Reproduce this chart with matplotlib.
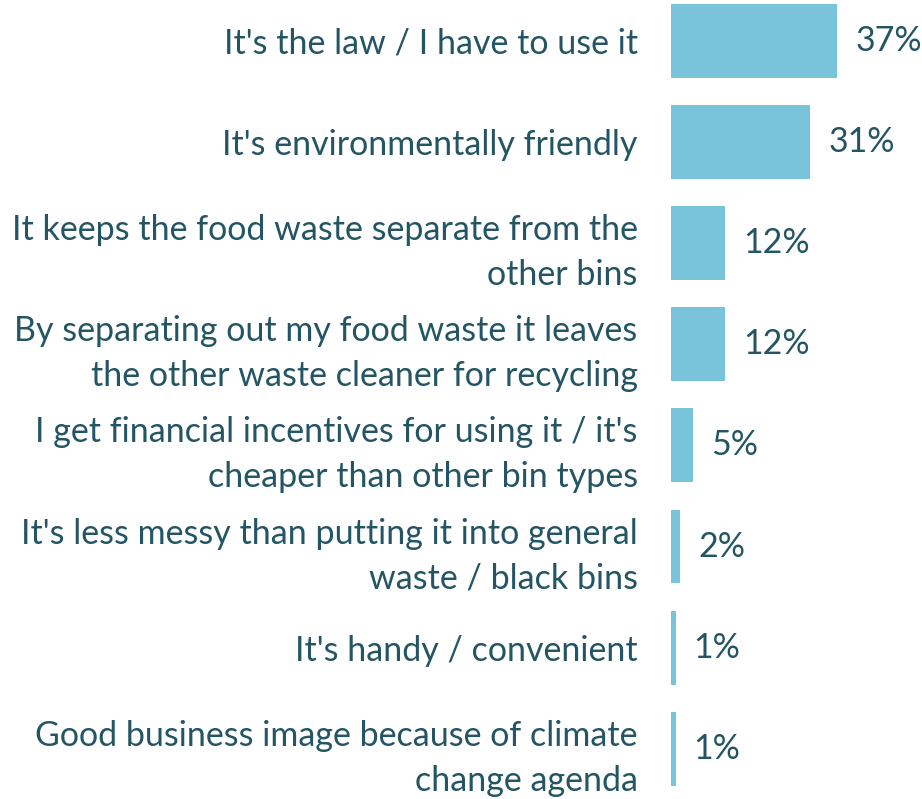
import matplotlib.pyplot as plt

plt.rcParams['font.family'] = ['Lato', 'DejaVu Sans']

reasons = [
    "It's the law / I have to use it",
    "It's environmentally friendly",
    "It keeps the food waste separate from the\nother bins",
    "By separating out my food waste it leaves\nthe other waste cleaner for recycling",
    "I get financial incentives for using it / it's\ncheaper than other bin types",
    "It's less messy than putting it into general\nwaste / black bins",
    "It's handy / convenient",
    "Good business image because of climate\nchange agenda",
]
shares = [37, 31, 12, 12, 5, 2, 1, 1]

bar_color = '#7ac4db'
text_color = '#235564'

fig = plt.figure(figsize=(9.22, 7.99), dpi=100)
ax = fig.add_axes([0.7278, 0.0, 0.219, 1.0])

pos = list(range(len(reasons)))
ax.barh(pos, shares, height=0.73, color=bar_color)
ax.set_xlim(0, 45)
ax.set_ylim(7.497, -0.405)

ax.set_yticks(pos)
ax.set_yticklabels(reasons, fontsize=24.5, color=text_color, linespacing=1.5)
ax.tick_params(axis='y', length=0, pad=24)
ax.set_xticks([])
for s in ax.spines.values():
    s.set_visible(False)

for y, v in zip(pos, shares):
    ax.annotate(f"{v}%", (v, y), xytext=(13, 0), textcoords='offset points',
                va='center', ha='left', fontsize=24.5, color=text_color)

fig.savefig('out.png', dpi=100)
